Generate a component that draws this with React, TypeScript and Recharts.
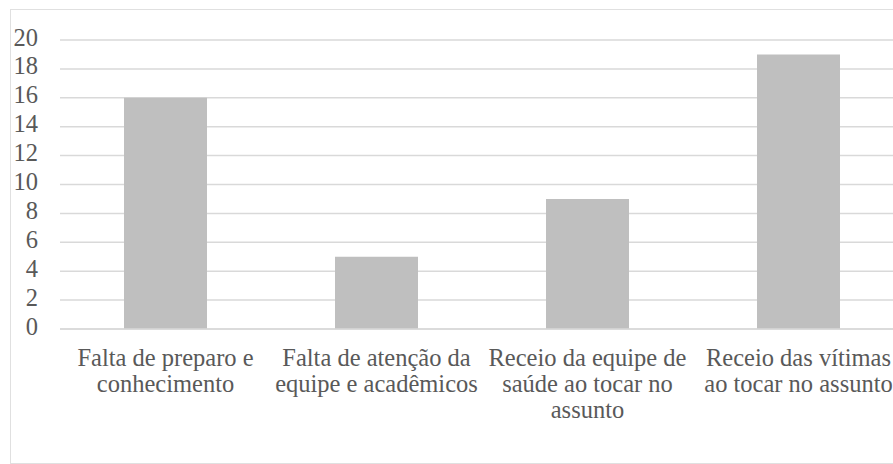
import { BarChart, Bar, XAxis, YAxis, CartesianGrid } from "recharts";

const categories = [
  "Falta de preparo e\nconhecimento",
  "Falta de atenção da\nequipe e acadêmicos",
  "Receio da equipe de\nsaúde ao tocar no\nassunto",
  "Receio das vítimas\nao tocar no assunto",
];
const counts = [16, 5, 9, 19];
const yTicks = [0, 2, 4, 6, 8, 10, 12, 14, 16, 18, 20];

const data = categories.map((name, i) => ({ name, value: counts[i] }));

const FONT = "Liberation Serif";
const TEXT = "#595959";

function renderCategoryTick(props: any) {
  const { x, y, payload } = props;
  const lines = String(payload.value).split("\n");
  return (
    <g>
      <text
        x={x}
        y={y}
        textAnchor="middle"
        fill={TEXT}
        fontFamily={FONT}
        fontSize={24.5}
        style={{ fontFamily: FONT, fontSize: 24.5 }}
      >
        {lines.map((line, i) => (
          <tspan key={i} x={x} dy={i === 0 ? 37 : 26}>
            {line}
          </tspan>
        ))}
      </text>
    </g>
  );
}

function renderValueTick(props: any) {
  const { x, y, payload } = props;
  return (
    <g>
      <text
        x={x}
        y={y}
        dy={5.5}
        textAnchor="end"
        fill={TEXT}
        fontFamily={FONT}
        fontSize={24.5}
        style={{ fontFamily: FONT, fontSize: 24.5 }}
      >
        {payload.value}
      </text>
    </g>
  );
}

export default function App() {
  return (
    <div
      style={{
        position: "fixed",
        left: 0,
        top: 0,
        width: 893,
        height: 464,
        overflow: "hidden",
        background: "#fff",
        fontFamily: FONT,
      }}
    >
      <div
        style={{
          position: "absolute",
          left: 10,
          top: 9,
          width: 950,
          height: 455,
          border: "1px solid #E0E0E0",
          boxSizing: "border-box",
          background: "#fff",
        }}
      >
        <BarChart
          width={940}
          height={450}
          data={data}
          margin={{ top: 30, right: 47, left: 0, bottom: 0 }}
          style={{ fontFamily: FONT }}
        >
          <CartesianGrid vertical={false} stroke="#D9D9D9" strokeWidth={1.5} />
          <XAxis
            dataKey="name"
            height={131}
            interval={0}
            tickLine={false}
            tickSize={0}
            tickMargin={0}
            axisLine={{ stroke: "#D9D9D9", strokeWidth: 1.5 }}
            tick={renderCategoryTick}
          />
          <YAxis
            width={49}
            domain={[0, 20]}
            ticks={yTicks}
            interval={0}
            axisLine={false}
            tickLine={false}
            tickSize={0}
            tickMargin={22}
            tick={renderValueTick}
          />
          <Bar dataKey="value" fill="#BFBFBF" barSize={83} isAnimationActive={false} />
        </BarChart>
      </div>
    </div>
  );
}
